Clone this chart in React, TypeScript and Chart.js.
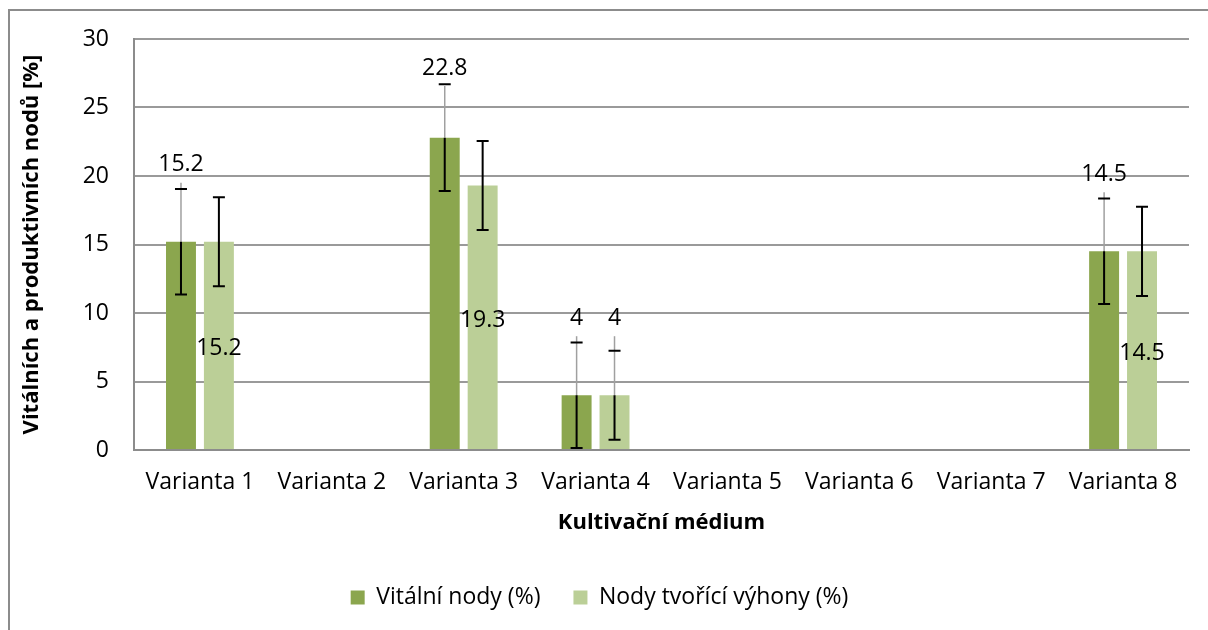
import React, { useEffect, useRef } from "react";
import { Chart, registerables } from "chart.js";

Chart.register(...registerables);

const categories = [
  "Varianta 1",
  "Varianta 2",
  "Varianta 3",
  "Varianta 4",
  "Varianta 5",
  "Varianta 6",
  "Varianta 7",
  "Varianta 8",
];
const vitalniNody = [15.2, 0, 22.8, 4, 0, 0, 0, 14.5];
const nodyTvoriciVyhony = [15.2, 0, 19.3, 4, 0, 0, 0, 14.5];
const vitalniNodyErr = [3.85, 0, 3.9, 3.85, 0, 0, 0, 3.85];
const nodyTvoriciVyhonyErr = [3.25, 0, 3.25, 3.25, 0, 0, 0, 3.25];
const yTickValues = [0, 5, 10, 15, 20, 25, 30];

const seriesNames = ["Vitální nody (%)", "Nody tvořící výhony (%)"];
const xTitle = "Kultivační médium";
const yTitle = "Vitálních a produktivních nodů [%]";

const FONT = "'Open Sans'";
const FS = 23;
const TFS = 22;
const W = 1208;
const H = 630;

const framePlugin = {
  id: "frame",
  beforeDraw(chart: any) {
    const ctx = chart.ctx;
    ctx.save();
    ctx.fillStyle = "#ffffff";
    ctx.fillRect(0, 0, chart.width, chart.height);
    ctx.strokeStyle = "#8c8c8c";
    ctx.lineWidth = 2;
    ctx.beginPath();
    ctx.moveTo(9, chart.height);
    ctx.lineTo(9, 10);
    ctx.lineTo(chart.width, 10);
    ctx.stroke();
    ctx.restore();
  },
};

const errorLabelPlugin = {
  id: "errorLabels",
  afterDatasetsDraw(chart: any) {
    const ctx = chart.ctx;
    const yScale = chart.scales.y;
    const area = chart.chartArea;
    chart.data.datasets.forEach((ds: any, di: number) => {
      const meta = chart.getDatasetMeta(di);
      meta.data.forEach((bar: any, i: number) => {
        const v = ds.data[i];
        if (!v) return;
        const e = ds.errors[i];
        const x = bar.x;
        const top = yScale.getPixelForValue(v + e);
        const bot = yScale.getPixelForValue(v - e);
        const barTop = bar.y;
        const barH = bar.base - bar.y;
        const inside = ds.labelInside && barH > 60;
        let labelY: number;
        if (inside) {
          labelY = (bar.y + bar.base) / 2 + 3;
        } else {
          labelY = Math.max(barTop - 77, area.top + 29);
        }
        ctx.save();
        if (!inside) {
          ctx.strokeStyle = "#a0a0a0";
          ctx.lineWidth = 1.5;
          ctx.beginPath();
          ctx.moveTo(x, barTop);
          ctx.lineTo(x, labelY + 18);
          ctx.stroke();
        }
        ctx.strokeStyle = "#000000";
        ctx.lineWidth = 2;
        ctx.beginPath();
        ctx.moveTo(x, inside ? top : barTop);
        ctx.lineTo(x, bot);
        ctx.moveTo(x - 6, top);
        ctx.lineTo(x + 6, top);
        ctx.moveTo(x - 6, bot);
        ctx.lineTo(x + 6, bot);
        ctx.stroke();
        ctx.fillStyle = "#000000";
        ctx.font = `${FS}px ${FONT}`;
        ctx.textAlign = "center";
        ctx.textBaseline = "middle";
        ctx.fillText(String(v), x, labelY);
        ctx.restore();
      });
    });
  },
};

export default function App() {
  const ref = useRef<HTMLCanvasElement | null>(null);

  useEffect(() => {
    if (!ref.current) return;
    const chart = new Chart(ref.current, {
      type: "bar",
      data: {
        labels: categories,
        datasets: [
          {
            label: seriesNames[0],
            data: vitalniNody,
            errors: vitalniNodyErr,
            labelInside: false,
            backgroundColor: "#8BA64E",
            categoryPercentage: 0.575,
            barPercentage: 0.79,
          } as any,
          {
            label: seriesNames[1],
            data: nodyTvoriciVyhony,
            errors: nodyTvoriciVyhonyErr,
            labelInside: true,
            backgroundColor: "#BBCF97",
            categoryPercentage: 0.575,
            barPercentage: 0.79,
          } as any,
        ],
      },
      options: {
        responsive: false,
        animation: false,
        devicePixelRatio: 1,
        layout: { padding: { left: 10, right: 19, top: 39, bottom: 11 } },
        plugins: {
          legend: {
            position: "bottom",
            labels: {
              font: { family: FONT, size: FS },
              color: "#000000",
              boxWidth: 14,
              boxHeight: 14,
              padding: 33,
            },
          },
          tooltip: { enabled: false },
        },
        scales: {
          x: {
            grid: { display: false, drawTicks: false },
            border: { display: true, color: "#8c8c8c", width: 2 },
            ticks: {
              font: { family: FONT, size: FS },
              color: "#000000",
              padding: 19,
              maxRotation: 0,
              autoSkip: false,
            },
            title: {
              display: true,
              text: xTitle,
              font: { family: FONT, size: TFS, weight: "bold" },
              color: "#000000",
              padding: { top: 0, bottom: 17 },
            },
            afterFit: (s: any) => {
              s.height = 103;
            },
          },
          y: {
            min: 0,
            max: 30,
            afterBuildTicks: (s: any) => {
              s.ticks = yTickValues.map((v) => ({ value: v }));
            },
            grid: { color: "#9a9a9a", lineWidth: 2, drawTicks: false },
            border: { display: true, color: "#8c8c8c", width: 2 },
            ticks: {
              font: { family: FONT, size: FS },
              color: "#000000",
              padding: 25,
            },
            title: {
              display: true,
              text: yTitle,
              font: { family: FONT, size: TFS, weight: "bold" },
              color: "#000000",
              padding: { top: 9, bottom: 0 },
            },
            afterFit: (s: any) => {
              s.width = 124;
            },
          },
        },
      } as any,
      plugins: [framePlugin, errorLabelPlugin],
    });
    return () => chart.destroy();
  }, []);

  return (
    <div style={{ position: "fixed", left: 0, top: 0, width: W, height: H }}>
      <canvas ref={ref} width={W} height={H} style={{ width: W, height: H, display: "block" }} />
    </div>
  );
}
